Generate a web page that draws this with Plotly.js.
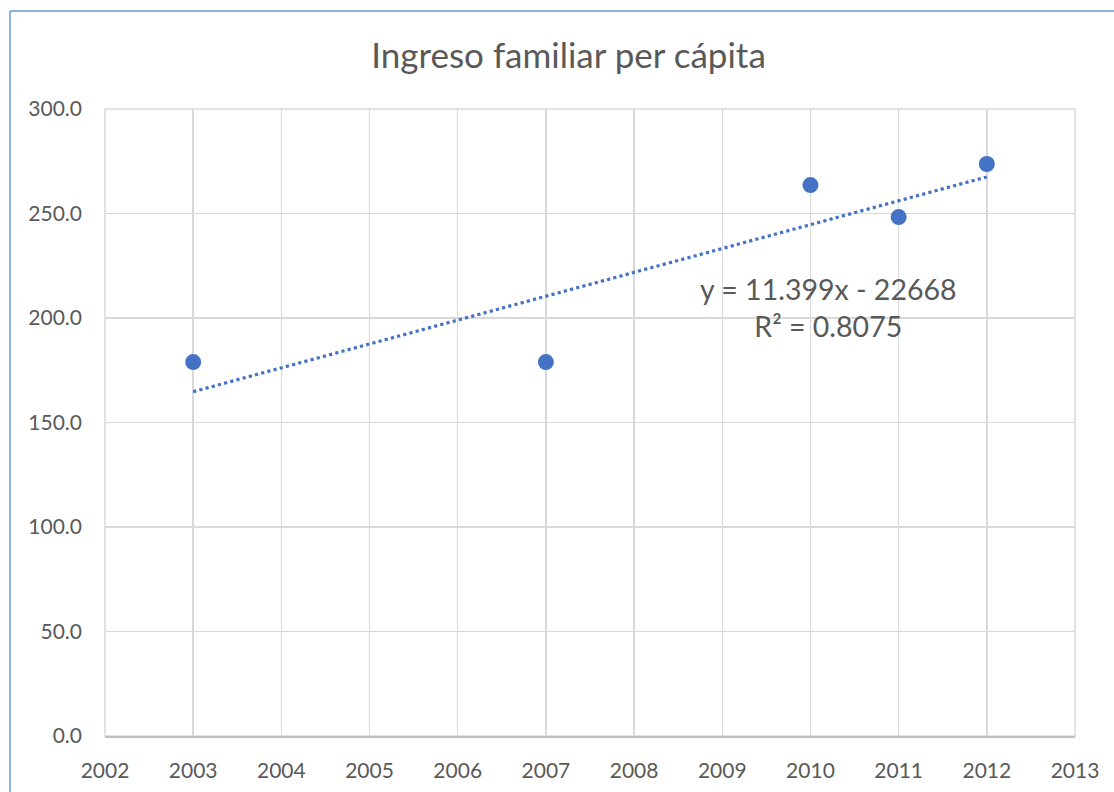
<!DOCTYPE html>
<html>
<head>
<meta charset="utf-8">
<script src="https://cdn.plot.ly/plotly-3.0.1.min.js"></script>
<style>
html,body{margin:0;padding:0;background:#fff;}
#chart{width:1114px;height:792px;}
</style>
</head>
<body>
<div id="chart"></div>
<script>
const years = [2003, 2007, 2010, 2011, 2012];
const ingreso = [178.9, 178.9, 263.6, 248.3, 273.7];
const titleText = "Ingreso familiar per cápita";
const eqText = "y = 11.399x - 22668<br>R² = 0.8075";
const yTicks = [0, 50, 100, 150, 200, 250, 300];
const xTicks = [2002, 2003, 2004, 2005, 2006, 2007, 2008, 2009, 2010, 2011, 2012, 2013];

// linear regression computed from the data
const n = years.length;
const mx = years.reduce((a,b)=>a+b,0)/n;
const my = ingreso.reduce((a,b)=>a+b,0)/n;
let sxy=0, sxx=0;
for (let i=0;i<n;i++){ sxy += (years[i]-mx)*(ingreso[i]-my); sxx += (years[i]-mx)**2; }
const slope = sxy/sxx, icpt = my - slope*mx;
const tx = [Math.min(...years), Math.max(...years)];
const ty = tx.map(x => slope*x + icpt);

const font = "Lato, 'Open Sans', sans-serif";
const txtColor = "#595959";

const data = [
  {x: tx, y: ty, type: 'scatter', mode: 'lines',
   line: {color: '#4472C4', width: 3.2, dash: 'dot'}, hoverinfo: 'skip', showlegend: false},
  {x: years, y: ingreso, type: 'scatter', mode: 'markers',
   marker: {color: '#4472C4', size: 16}, showlegend: false}
];

const layout = {
  width: 1114, height: 792,
  margin: {l: 105, r: 39, t: 109, b: 56},
  paper_bgcolor: '#fff', plot_bgcolor: '#fff',
  title: {text: titleText, font: {family: font, size: 35, color: txtColor},
    xref: 'container', x: 0.5103, xanchor: 'center', y: 0.93, yanchor: 'middle'},
  xaxis: {range: [2002, 2013], tickvals: xTicks, ticktext: xTicks.map(String),
    showgrid: true, gridcolor: '#d9d9d9', gridwidth: 1.5, zeroline: false,
    showline: true, linecolor: '#bfbfbf', linewidth: 1.5, mirror: false,
    ticks: '', ticklabelstandoff: 15, tickfont: {family: font, size: 21, color: txtColor}},
  yaxis: {range: [0, 300], tickvals: yTicks, ticktext: yTicks.map(v => v.toFixed(1)),
    showgrid: true, gridcolor: '#d9d9d9', gridwidth: 1.5, zeroline: false,
    showline: false, ticks: '', ticklen: 0, ticklabelstandoff: 22,
    tickfont: {family: font, size: 21, color: txtColor}},
  annotations: [{x: 2010.2, y: 205.0, xref: 'x', yref: 'y', text: eqText, showarrow: false,
    font: {family: font, size: 28.5, color: txtColor}, align: 'center'}],
  shapes: [
    {type: 'rect', xref: 'paper', yref: 'paper', x0: 0, x1: 1, y0: 0, y1: 1,
     line: {color: '#d9d9d9', width: 1.5}, layer: 'below'},
    {type: 'line', xref: 'paper', yref: 'paper', x0: -0.0979, x1: 1.2, y0: 1.1563, y1: 1.1563,
     line: {color: '#6a9ad3', width: 1.5}},
    {type: 'line', xref: 'paper', yref: 'paper', x0: -0.0979, x1: -0.0979, y0: -0.2, y1: 1.1563,
     line: {color: '#6a9ad3', width: 1.5}}
  ]
};

Plotly.newPlot('chart', data, layout, {displayModeBar: false, staticPlot: true});
</script>
</body>
</html>
